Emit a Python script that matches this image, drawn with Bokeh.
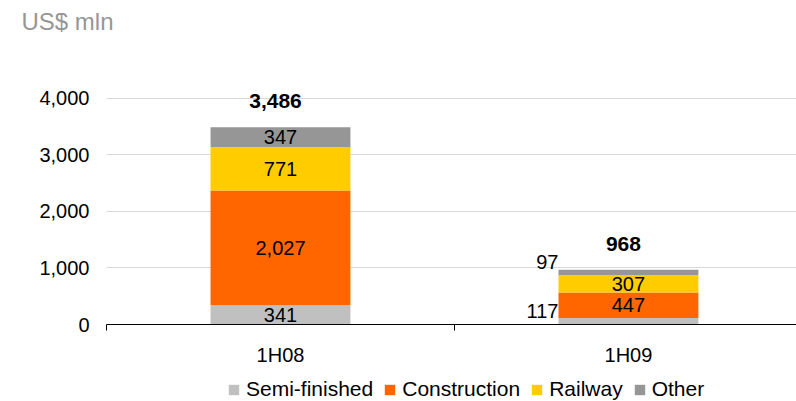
import numpy as np
from bokeh.plotting import figure
from bokeh.layouts import column
from bokeh.models import (Range1d, LinearAxis, FixedTicker, NumeralTickFormatter,
                          Legend, ColumnDataSource, Grid)
from bokeh.core.properties import value
from bokeh.embed import file_html
from bokeh.resources import INLINE

# ---- data ----
categories = ["1H08", "1H09"]
series = ["Semi-finished", "Construction", "Railway", "Other"]
semi_finished = [341, 117]
construction = [2027, 447]
railway = [771, 307]
other = [347, 97]
y_ticks = [0, 1000, 2000, 3000, 4000]
unit_label = "US$ mln"

colors = ["#c0c0c0", "#ff6600", "#ffcc00", "#969696"]
FONT = "Liberation Sans"

values = [semi_finished, construction, railway, other]
xs = np.arange(len(categories)) + 0.5
totals = [sum(v[i] for v in values) for i in range(len(categories))]

src = ColumnDataSource({"x": xs, **{s: v for s, v in zip(series, values)}})

# ---- main chart ----
p = figure(width=796, height=372, output_backend="svg", toolbar_location=None,
           x_range=Range1d(0, 1.983), y_range=Range1d(0, 5072),
           x_axis_type=None, y_axis_type=None,
           min_border_left=106, min_border_right=0, min_border_top=37,
           min_border_bottom=48)
p.outline_line_color = None
p.background_fill_color = "white"
p.border_fill_color = "white"

p.title.text = unit_label
p.title.align = "left"
p.title.offset = -85
p.title.standoff = 6
p.title.text_font = FONT
p.title.text_font_size = "24px"
p.title.text_font_style = "normal"
p.title.text_color = "#969696"

# y axis
yax = LinearAxis(ticker=FixedTicker(ticks=y_ticks),
                 formatter=NumeralTickFormatter(format="0,0"))
yax.axis_line_color = None
yax.major_tick_line_color = None
yax.major_tick_out = 0
yax.major_tick_in = 0
yax.minor_tick_line_color = None
yax.minor_tick_out = 0
yax.major_label_standoff = 17
yax.major_label_text_font = FONT
yax.major_label_text_font_size = "20px"
yax.major_label_text_color = "black"
p.add_layout(yax, "left")

# horizontal gridlines
grid = Grid(dimension=1, ticker=FixedTicker(ticks=y_ticks[1:]),
            grid_line_color="#d9d9d9", grid_line_width=1)
p.add_layout(grid)

# x tick axis at category boundaries
tick_axis = LinearAxis(ticker=FixedTicker(ticks=list(range(len(categories) + 1))),
                       major_label_overrides={i: " " for i in range(len(categories) + 1)})
tick_axis.axis_line_color = "black"
tick_axis.axis_line_width = 1
tick_axis.major_tick_line_color = "black"
tick_axis.major_tick_in = 0
tick_axis.major_tick_out = 6
tick_axis.minor_tick_line_color = None
tick_axis.major_label_text_font_size = "1px"
tick_axis.major_label_standoff = 0
p.add_layout(tick_axis, "below")

# category label axis
cat_axis = LinearAxis(ticker=FixedTicker(ticks=list(xs)),
                      major_label_overrides={float(x): c for x, c in zip(xs, categories)})
cat_axis.axis_line_color = None
cat_axis.major_tick_line_color = None
cat_axis.minor_tick_line_color = None
cat_axis.major_label_standoff = 3
cat_axis.major_label_text_font = FONT
cat_axis.major_label_text_font_size = "20px"
cat_axis.major_label_text_color = "black"
p.add_layout(cat_axis, "below")

bar_width = 0.402
p.vbar_stack(series, x="x", width=bar_width, color=colors, line_color=None, source=src)

# segment labels (small segments get their label beside the bar)
inside_x, inside_y, inside_t = [], [], []
out_x, out_y, out_t = [], [], []
for i in range(len(categories)):
    base = 0
    for v in values:
        val = v[i]
        mid = base + val / 2
        if val < 150:
            out_x.append(xs[i] - bar_width / 2)
            out_y.append(mid)
            out_t.append(f"{val:,}")
        else:
            inside_x.append(xs[i])
            inside_y.append(mid)
            inside_t.append(f"{val:,}")
        base += val

p.text(x=inside_x, y=inside_y, text=inside_t, text_align="center",
       text_baseline="middle", text_font=value(FONT), text_font_size="20px",
       text_color="black")
p.text(x=out_x, y=out_y, text=out_t, text_align="right",
       text_baseline="middle", text_font=value(FONT), text_font_size="20px",
       text_color="black", y_offset=-10)

# totals
p.text(x=list(xs), y=totals, text=[f"{t:,}" for t in totals], text_align="center",
       text_baseline="middle", text_font=value(FONT), text_font_size="21px",
       text_font_style="bold", text_color="black", x_offset=-5, y_offset=-26)

# ---- legend strip (frame is aligned with the main chart's frame) ----
lg = figure(width=796, height=29, output_backend="svg", toolbar_location=None,
            x_range=Range1d(0, 1.983), y_range=Range1d(-20000, -10000),
            x_axis_type=None, y_axis_type=None,
            min_border_left=0, min_border_right=0, min_border_top=0, min_border_bottom=0)
lg.outline_line_color = None
lg.grid.visible = False
# same stacked bars, kept out of this strip's view: only their legend swatches show
lg_renderers = lg.vbar_stack(series, x="x", width=bar_width, color=colors,
                             line_color=None, source=src)
for r in lg_renderers:
    r.visible = False

legend = Legend(items=[(s, [r]) for s, r in zip(series, lg_renderers)],
                orientation="horizontal", location=(121, 0))
legend.border_line_color = None
legend.background_fill_alpha = 0
legend.inactive_fill_alpha = 0
legend.label_text_font = FONT
legend.label_text_font_size = "21px"
legend.label_text_color = "black"
legend.glyph_width = 13
legend.glyph_height = 13
legend.label_standoff = 6
legend.spacing = 10
legend.padding = 0
legend.margin = 0
lg.add_layout(legend, "center")

layout = column(p, lg, spacing=0)
open("out.html", "w").write(file_html(layout, INLINE))
